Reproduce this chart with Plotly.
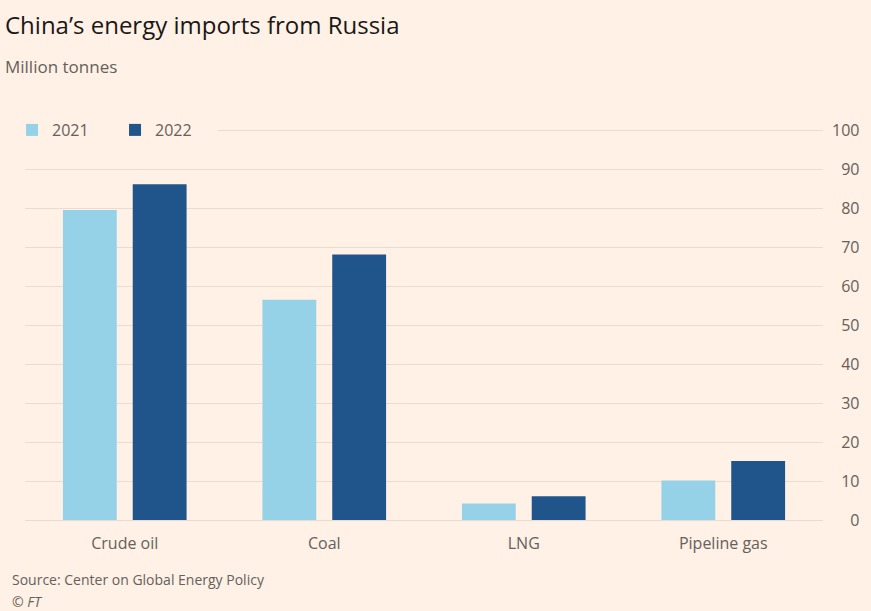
import plotly.graph_objects as go

categories = ["Crude oil", "Coal", "LNG", "Pipeline gas"]
values_2021 = [79.5, 56.5, 4.2, 10.1]
values_2022 = [86.1, 68.1, 6.1, 15.1]
series_names = ["2021", "2022"]
y_ticks = [0, 10, 20, 30, 40, 50, 60, 70, 80, 90, 100]

W, H = 871, 611
L, R, T, B = 25, 46, 128, 89
BG = "#FFF1E5"
FONT = "Open Sans"

# pixel rows of value 0 and value 100 in the layout
Y0_PX, Y100_PX = 520.0, 130.0
ppu = (Y0_PX - Y100_PX) / 100.0
y_min = -((H - B) - Y0_PX) / ppu
y_max = (Y0_PX - T) / ppu

def px_x(p):
    return (p - L) / (W - L - R)

def px_y(p):
    return (H - B - p) / (H - T - B)

tick_text = [("\u2007" * (3 - len(str(v)))) + str(v) for v in y_ticks]

fig = go.Figure()
fig.add_trace(go.Bar(x=categories, y=values_2021, name=series_names[0],
                     marker=dict(color="#96D2E7", line=dict(width=0))))
fig.add_trace(go.Bar(x=categories, y=values_2022, name=series_names[1],
                     marker=dict(color="#20558C", line=dict(width=0))))

fig.update_layout(
    width=W, height=H,
    margin=dict(l=L, r=R, t=T, b=B),
    paper_bgcolor=BG, plot_bgcolor=BG,
    barmode="group", bargap=0.3, bargroupgap=0.229,
    font=dict(family=FONT, color="#66605C", size=15),
    showlegend=True,
    legend=dict(orientation="h", x=px_x(12), y=px_y(130), xanchor="left", yanchor="middle",
                bgcolor=BG, font=dict(size=16, color="#66605C"),
                itemwidth=30, tracegroupgap=0, entrywidthmode="pixels", entrywidth=58),
    xaxis=dict(showgrid=False, showline=False, ticks="", ticklabelstandoff=10,
               tickfont=dict(size=16, color="#66605C")),
    yaxis=dict(side="right", range=[y_min, y_max], tickvals=y_ticks, ticktext=tick_text,
               showgrid=True, gridcolor="#E9DDD3", gridwidth=1, zeroline=False,
               showline=False, ticks="", ticklabelstandoff=8,
               tickfont=dict(size=16, color="#66605C")),
)

fig.add_annotation(text="China\u2019s energy imports from Russia", xref="paper", yref="paper",
                   x=px_x(3), y=px_y(25), xanchor="left", yanchor="middle", showarrow=False,
                   font=dict(size=24, color="#1A1817", family=FONT))
fig.add_annotation(text="Million tonnes", xref="paper", yref="paper",
                   x=px_x(3), y=px_y(66), xanchor="left", yanchor="middle", showarrow=False,
                   font=dict(size=17, color="#66605C", family=FONT))
fig.add_annotation(text="Source: Center on Global Energy Policy", xref="paper", yref="paper",
                   x=px_x(10), y=px_y(579), xanchor="left", yanchor="middle", showarrow=False,
                   font=dict(size=14, color="#66605C", family=FONT))
fig.add_annotation(text="<i>\u00a9 FT</i>", xref="paper", yref="paper",
                   x=px_x(10), y=px_y(601), xanchor="left", yanchor="middle", showarrow=False,
                   font=dict(size=14, color="#66605C", family=FONT))

fig.write_html("out.html", config={"displayModeBar": False},
               post_script="document.body.style.margin='0';document.body.style.overflow='hidden';")
